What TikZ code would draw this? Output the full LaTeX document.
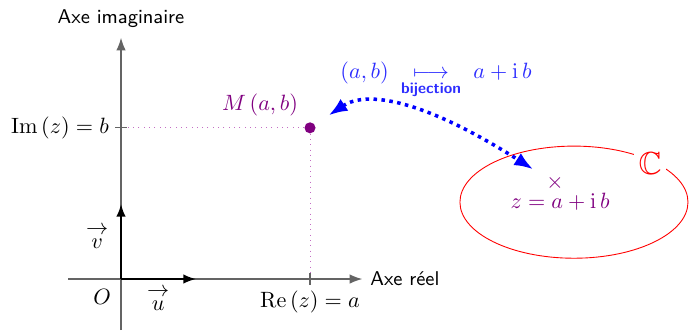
\documentclass[tikz,border=0pt]{standalone}
\usepackage{amsmath}
\usepackage{amssymb}
\usetikzlibrary{positioning,arrows.meta,shapes.geometric}
\definecolor{PointPurple}{RGB}{128,0,128}
\definecolor{DotPurple}{RGB}{196,110,196}
\definecolor{MapBlue}{RGB}{45,45,255}
\definecolor{AxisGray}{RGB}{100,100,100}

\begin{document}
\begin{tikzpicture}[axis/.style={AxisGray,semithick,-{Latex[length=2mm]}},vec/.style={black,thick,-{Latex[length=2mm]}}]
\useasboundingbox (-1.921,-0.841) rectangle (9.032,4.429);
\coordinate (O) at (0,0);
\coordinate (ta) at (3,0);
\coordinate (tb) at (0,2.4);
% axes
\draw[axis] (-0.84,0) -- (3.83,0) node[right,black,font=\sffamily\small] (xlab) {Axe réel};
\draw[axis] (0,-0.81) -- (0,3.83);
\node[font=\sffamily\small] (ylab) at (0,4.14) {Axe imaginaire};
% vecteurs
\draw[vec] (O) -- (1.19,0);
\draw[vec] (O) -- (0,1.19);
\node (u) at (0.59,-0.3) {$\overset{\textstyle\rightarrow}{u}$};
\node (v) at (-0.38,0.68) {$\overset{\textstyle\rightarrow}{v}$};
\node[below left=1pt and 1pt] (o) at (O) {$O$};
% point M
\node[circle,fill=PointPurple,inner sep=0pt,minimum size=5pt] (M) at (3,2.4) {};
\node[PointPurple,above left=0pt and 0pt] (Mlab) at (M.north west) {$M\left(a,b\right)$};
\draw[DotPurple,dotted] (M) -- (ta);
\draw[DotPurple,dotted] (M) -- (tb);
\draw[AxisGray,semithick] ([yshift=-2.5pt]ta) -- ([yshift=2.5pt]ta);
\draw[AxisGray,semithick] ([xshift=-2.5pt]tb) -- ([xshift=2.5pt]tb);
\node[below=2pt] (re) at (ta) {$\mathrm{Re}\left(z\right)=a$};
\node[left=2pt] (im) at (tb) {$\mathrm{Im}\left(z\right)=b$};
% ensemble C
\node[draw=red,ellipse,minimum width=3.62cm,minimum height=1.78cm] (setC) at (7.19,1.22) {};
\node[fill=white,text=red,font=\Large,inner sep=2pt] (Clab) at (8.40,1.84) {$\mathbb{C}$};
\node[PointPurple,inner sep=1pt] (z) at (6.89,1.52) {$\times$};
\node[PointPurple] (zlab) at (6.97,1.22) {$z=a+\mathrm{i}\,b$};
% bijection
\node[MapBlue] (bij) at (5.0,3.15) {$\left(a,b\right)\;\underset{\text{\sffamily\bfseries bijection}}{\longmapsto}\;a+\mathrm{i}\,b$};
\draw[{Latex[length=3mm]}-{Latex[length=3mm]},blue,line width=1.6pt,dotted,shorten <=0.26cm,shorten >=0.2cm] (M) .. controls (3.9,3.0) and (4.8,2.85) .. (z);
\end{tikzpicture}
\end{document}
